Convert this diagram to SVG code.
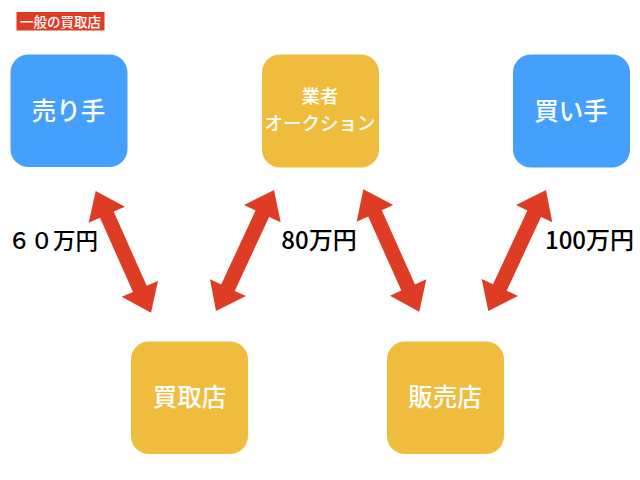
<svg xmlns="http://www.w3.org/2000/svg" width="640" height="480" viewBox="0 0 640 480">
<style>
text{font-family:"Noto Sans CJK JP","Noto Sans",sans-serif;text-anchor:middle}
.blue{fill:#459ffc}.yel{fill:#f0bc3e}
.n{fill:#fff;font-weight:500;font-size:24.500px}
.s{fill:#fff;font-weight:500;font-size:18.500px}
.p{fill:#000;font-family:"Noto Sans CJK JP","Liberation Sans",sans-serif;font-size:24px;font-weight:500}
.a{fill:#df3c26}
</style>
<rect width="640" height="480" fill="#fff"/>
<g id="title"><rect x="16.500" y="12" width="88" height="18.500" fill="#df3c26"/><text x="60.500" y="26.500" font-size="13.500" font-weight="500" fill="#fff">一般の買取店</text></g>
<g id="seller"><rect class="blue" x="10.500" y="54.500" width="117" height="112.500" rx="18"/><text class="n" x="68.500" y="120">売り手</text></g>
<g id="auction"><rect class="yel" x="262" y="54.500" width="117" height="113" rx="18"/><text class="s" x="320" y="103">業者</text><text class="s" x="320" y="130">オークション</text></g>
<g id="buyer"><rect class="blue" x="513" y="54.500" width="117" height="113" rx="18"/><text class="n" x="571" y="120">買い手</text></g>
<g id="dealer"><rect class="yel" x="131" y="341.500" width="117" height="112.500" rx="18"/><text class="n" x="189.500" y="406">買取店</text></g>
<g id="retailer"><rect class="yel" x="387" y="341.500" width="117" height="112.500" rx="18"/><text class="n" x="445" y="406">販売店</text></g>
<g id="connectors">
<polygon class="a" points="95.700,191 125,206.700 113.700,211.600 146.700,285.700 158,281 151,312.700 121.700,296.700 133,291.900 100,217.800 88.700,222.700"/>
<polygon class="a" points="274,190 280.700,222.300 269.100,216.900 234.800,290.900 246,296 216,311 210,279.300 221.200,284.400 255.600,210.400 244,205"/>
<polygon class="a" points="363.300,189.300 393.300,205 381.800,210.200 415,284.400 426.300,279.300 419.300,311.700 390,295.700 401.300,290.600 368.200,216.500 356.700,221.700"/>
<polygon class="a" points="546,190 552.300,222.300 541,216.900 506.700,290.700 518,296 488.300,311 481.700,279 493,284.300 527.400,210.500 516,205"/>
</g>
<g id="labels">
<text style="font-size:22.500px" class="p" x="53" y="248.500">６０万円</text>
<text class="p" x="319" y="249">80万円</text>
<text class="p" x="589.500" y="248.500">100万円</text>
</g>
</svg>
